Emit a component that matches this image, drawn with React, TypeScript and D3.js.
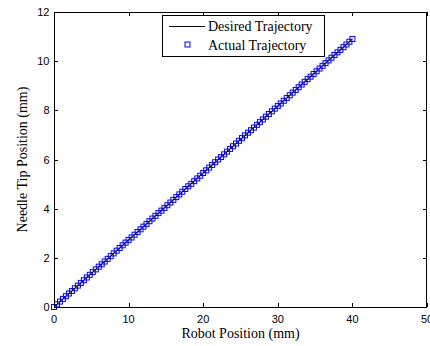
import { useEffect, useRef } from 'react'
import * as d3 from 'd3'

// robot position (mm) of every sampled point
const robotPos = [
  0, 0.4, 0.8, 1.2, 1.6, 2, 2.4, 2.8, 3.2, 3.6,
  4, 4.4, 4.8, 5.2, 5.6, 6, 6.4, 6.8, 7.2, 7.6,
  8, 8.4, 8.8, 9.2, 9.6, 10, 10.4, 10.8, 11.2, 11.6,
  12, 12.4, 12.8, 13.2, 13.6, 14, 14.4, 14.8, 15.2, 15.6,
  16, 16.4, 16.8, 17.2, 17.6, 18, 18.4, 18.8, 19.2, 19.6,
  20, 20.4, 20.8, 21.2, 21.6, 22, 22.4, 22.8, 23.2, 23.6,
  24, 24.4, 24.8, 25.2, 25.6, 26, 26.4, 26.8, 27.2, 27.6,
  28, 28.4, 28.8, 29.2, 29.6, 30, 30.4, 30.8, 31.2, 31.6,
  32, 32.4, 32.8, 33.2, 33.6, 34, 34.4, 34.8, 35.2, 35.6,
  36, 36.4, 36.8, 37.2, 37.6, 38, 38.4, 38.8, 39.2, 39.6,
  40,
]

// measured needle tip position (mm)
const actualTip = [
  0, 0.11, 0.22, 0.33, 0.44, 0.55, 0.65, 0.76, 0.87, 0.98,
  1.09, 1.2, 1.31, 1.42, 1.53, 1.64, 1.74, 1.85, 1.96, 2.07,
  2.18, 2.29, 2.4, 2.51, 2.62, 2.73, 2.83, 2.94, 3.05, 3.16,
  3.27, 3.38, 3.49, 3.6, 3.71, 3.82, 3.92, 4.03, 4.14, 4.25,
  4.36, 4.47, 4.58, 4.69, 4.8, 4.91, 5.01, 5.12, 5.23, 5.34,
  5.45, 5.56, 5.67, 5.78, 5.89, 6.0, 6.1, 6.21, 6.32, 6.43,
  6.54, 6.65, 6.76, 6.87, 6.98, 7.09, 7.19, 7.3, 7.41, 7.52,
  7.63, 7.74, 7.85, 7.96, 8.07, 8.18, 8.28, 8.39, 8.5, 8.61,
  8.72, 8.83, 8.94, 9.05, 9.16, 9.27, 9.37, 9.48, 9.59, 9.7,
  9.81, 9.92, 10.03, 10.14, 10.25, 10.36, 10.46, 10.57, 10.68, 10.79,
  10.9,
]

// desired trajectory end points
const desiredX = [0, 40]
const desiredY = [0, 10.9]

const xTicks = [0, 10, 20, 30, 40, 50]
const yTicks = [0, 2, 4, 6, 8, 10, 12]

export default function App() {
  const ref = useRef<SVGSVGElement>(null)

  useEffect(() => {
    const svg = d3.select(ref.current)
    svg.selectAll('*').remove()

    const left = 54, right = 427, top = 12, bottom = 307
    const x = d3.scaleLinear().domain([0, 50]).range([left, right])
    const y = d3.scaleLinear().domain([0, 12]).range([bottom, top])
    const tick = 4
    const sans = 'Liberation Sans, Arial, sans-serif'
    const serif = 'Liberation Serif, Times New Roman, serif'

    svg.append('rect')
      .attr('width', 430).attr('height', 346).attr('fill', '#fff')

    // ticks on all four sides, pointing inward
    const g = svg.append('g').attr('stroke', '#000').attr('stroke-width', 1)
    xTicks.forEach(t => {
      const px = Math.round(x(t)) + 0.5
      g.append('line').attr('x1', px).attr('x2', px).attr('y1', bottom).attr('y2', bottom - tick)
      g.append('line').attr('x1', px).attr('x2', px).attr('y1', top).attr('y2', top + tick)
    })
    yTicks.forEach(t => {
      const py = Math.round(y(t)) + 0.5
      g.append('line').attr('x1', left).attr('x2', left + tick).attr('y1', py).attr('y2', py)
      g.append('line').attr('x1', right).attr('x2', right - tick).attr('y1', py).attr('y2', py)
    })

    svg.append('g').selectAll('text').data(xTicks).enter().append('text')
      .attr('x', d => x(d))
      .attr('y', 323)
      .attr('text-anchor', 'middle')
      .attr('font-family', sans).attr('font-size', 11)
      .text(d => d)

    svg.append('g').selectAll('text').data(yTicks).enter().append('text')
      .attr('x', left - 4.5)
      .attr('y', d => y(d) + 4)
      .attr('text-anchor', 'end')
      .attr('font-family', sans).attr('font-size', 11)
      .text(d => d)

    // actual trajectory markers
    const pts = robotPos.map((r, i) => [r, actualTip[i]])
    svg.append('g').selectAll('rect').data(pts).enter().append('rect')
      .attr('x', d => x(d[0]) - 2.5)
      .attr('y', d => y(d[1]) - 2.5)
      .attr('width', 5).attr('height', 5)
      .attr('fill', 'none').attr('stroke', '#0000ff').attr('stroke-width', 1)

    // desired trajectory line
    const line = d3.line<number>().x(d => x(desiredX[d])).y(d => y(desiredY[d]))
    svg.append('path')
      .attr('d', line([0, 1]))
      .attr('fill', 'none').attr('stroke', '#000').attr('stroke-width', 1)

    // axes box
    svg.append('rect')
      .attr('x', left + 0.5).attr('y', top + 0.5)
      .attr('width', right - left - 1).attr('height', bottom - top)
      .attr('fill', 'none').attr('stroke', '#000').attr('stroke-width', 1)

    svg.append('text')
      .attr('x', (left + right) / 2).attr('y', 338)
      .attr('text-anchor', 'middle')
      .attr('font-family', serif).attr('font-size', 14)
      .text('Robot Position (mm)')

    svg.append('text')
      .attr('transform', `translate(27,${(top + bottom) / 2}) rotate(-90)`)
      .attr('text-anchor', 'middle')
      .attr('font-family', serif).attr('font-size', 14)
      .text('Needle Tip Position (mm)')

    // legend
    const lg = svg.append('g')
    lg.append('rect')
      .attr('x', 162.5).attr('y', 15.5).attr('width', 162).attr('height', 41)
      .attr('fill', '#fff').attr('stroke', '#000').attr('stroke-width', 1)
    lg.append('line')
      .attr('x1', 169).attr('x2', 205).attr('y1', 26.5).attr('y2', 26.5)
      .attr('stroke', '#000').attr('stroke-width', 1)
    lg.append('rect')
      .attr('x', 185).attr('y', 42).attr('width', 5).attr('height', 5)
      .attr('fill', 'none').attr('stroke', '#0000ff').attr('stroke-width', 1)
    lg.append('text')
      .attr('x', 208).attr('y', 31)
      .attr('font-family', serif).attr('font-size', 14)
      .text('Desired Trajectory')
    lg.append('text')
      .attr('x', 208).attr('y', 50)
      .attr('font-family', serif).attr('font-size', 14)
      .text('Actual Trajectory')
  }, [])

  return (
    <svg
      ref={ref}
      width={430}
      height={346}
      style={{ position: 'absolute', left: 0, top: 0, display: 'block' }}
    />
  )
}
